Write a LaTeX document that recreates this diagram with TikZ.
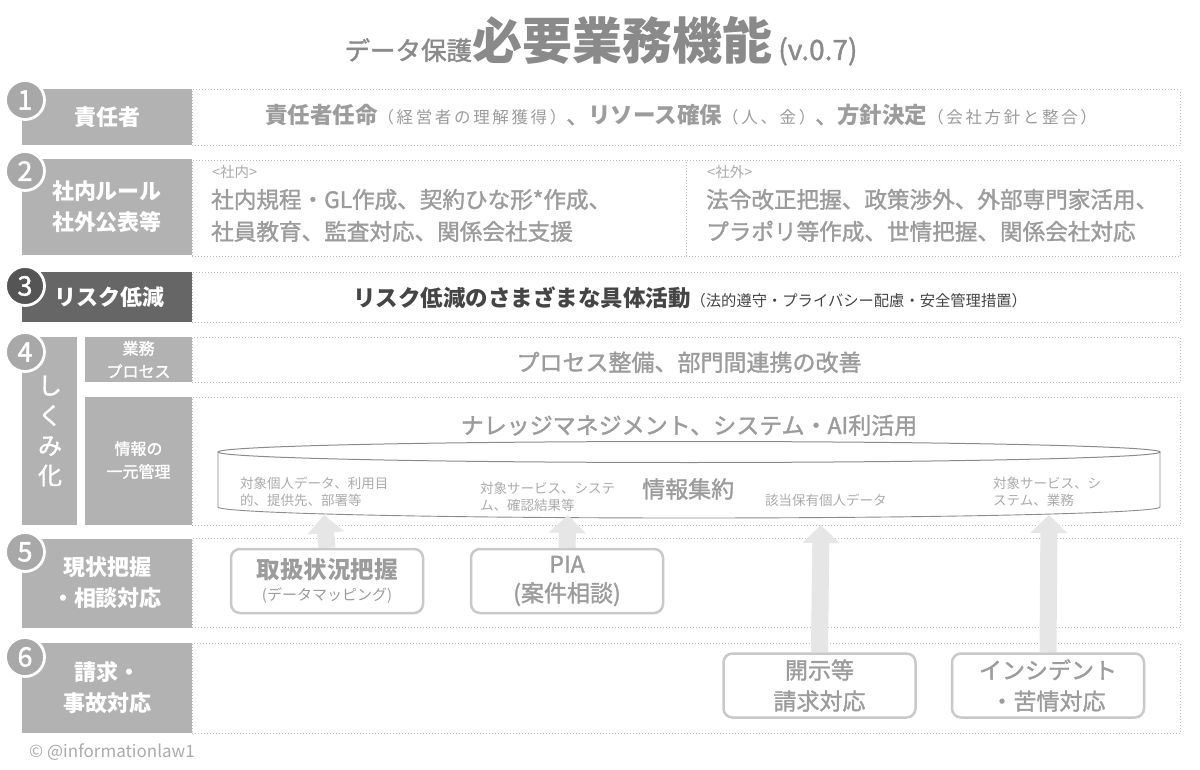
\documentclass[tikz,border=0pt]{standalone}
\usepackage{fontspec}
\setmainfont{Noto Sans CJK JP}
\newfontfamily\medf{Noto Sans CJK JP}[FakeBold=1.5]
\newfontfamily\spacedf{Noto Sans CJK JP}[LetterSpace=16]
\usetikzlibrary{arrows.meta}
\pgfdeclarelayer{lowlayer}
\pgfdeclarelayer{arrowlayer}
\pgfsetlayers{lowlayer,arrowlayer,main}
\definecolor{labg}{HTML}{B2B2B2}
\definecolor{numg}{HTML}{A8A8A8}
\definecolor{darkl}{HTML}{666666}
\definecolor{darkn}{HTML}{555555}
\definecolor{txtg}{HTML}{9C9C9C}
\definecolor{dotg}{HTML}{BDBDBD}
\definecolor{boxg}{HTML}{C9C9C9}
\definecolor{arrg}{HTML}{E6E6E6}
\definecolor{cylg}{HTML}{8C8C8C}
\definecolor{titg}{HTML}{8A8A8A}
\definecolor{t3}{HTML}{454545}
\newcommand\fsz[1]{\fontsize{#1}{#1}\selectfont}
\tikzset{
  lab/.style={fill=labg, draw=none, text=white, font=\bfseries\fontsize{22}{31}\selectfont, align=center, inner sep=0pt},
  sublab/.style={fill=labg, draw=none, text=white, font=\medf\fontsize{16}{23}\selectfont, align=center, inner sep=0pt},
  cont/.style={draw=dotg, line width=0.8pt, dash pattern=on 0.8pt off 2.2pt, inner sep=0pt, anchor=north west},
  numc/.style={circle, fill=numg, draw=white, line width=2.8pt, minimum size=39pt, inner sep=0pt, text=white, font=\medf\fontsize{27}{27}\selectfont},
  ctext/.style={text=txtg, inner sep=0pt},
  cyltext/.style={text=txtg!85, inner sep=0pt, anchor=west, align=left, font=\fontsize{13.5}{16.5}\selectfont},
  rbox/.style={draw=boxg, line width=2.5pt, rounded corners=9pt, fill=white, minimum width=192pt, minimum height=64pt, align=center, text=txtg, inner sep=0pt},
  fat/.style={draw=arrg, line width=17pt, -{Triangle[width=36pt,length=18pt]}}
}
\begin{document}
\begin{tikzpicture}[x=1pt,y=-1pt]
\useasboundingbox (0,0) rectangle (1200,770);
\begin{pgfonlayer}{lowlayer}
\fill[white] (0,0) rectangle (1200,770);
% content boxes
\node[cont, minimum width=988pt, minimum height=56pt] (c1) at (192,89) {};
\node[cont, minimum width=494pt, minimum height=96pt] (c2a) at (192,160) {};
\node[cont, minimum width=494pt, minimum height=96pt] (c2b) at (686,160) {};
\node[cont, minimum width=988pt, minimum height=50pt] (c3) at (192,272) {};
\node[cont, minimum width=988pt, minimum height=45pt] (c4a) at (192,337) {};
\node[cont, minimum width=988pt, minimum height=128pt] (c4b) at (192,397) {};
\node[cont, minimum width=988pt, minimum height=89pt] (c5) at (192,538) {};
\node[cont, minimum width=988pt, minimum height=90pt] (c6) at (192,643) {};
% cylinder
\draw[cylg, line width=0.9pt, fill=white] (218,452) -- (218,507)
  arc[start angle=180, end angle=0, x radius=471, y radius=11] -- (1160,452);
\draw[cylg, line width=1pt, fill=white] (689,452) ellipse [x radius=471, y radius=10.5];
\end{pgfonlayer}

% title
\node[anchor=base, text=titg, inner sep=0pt] (title) at (601,60)
  {{\medf\fsz{25.5}データ保護}{\bfseries\fsz{50}必要業務機能}{\medf\fsz{28}\ (v.0.7)}};

% label boxes
\node[lab, minimum width=170pt, minimum height=56pt] (l1) at (107,117) {責任者};
\node[lab, minimum width=170pt, minimum height=96pt] (l2) at (107,207) {社内ルール\\社外公表等};
\node[lab, fill=darkl, minimum width=170pt, minimum height=50pt] (l3) at (107,297) {\hspace*{4pt}リスク低減};
\node[lab, minimum width=55pt, minimum height=188pt] (l4) at (49.5,431) {};
\node[text=white, font=\medf\fontsize{24}{30}\selectfont, align=center, inner sep=0pt] (l4t) at (50,431) {し\\く\\み\\化};
\node[sublab, minimum width=107pt, minimum height=45pt] (l4a) at (138.5,359.5) {業務\\プロセス};
\node[sublab, minimum width=107pt, minimum height=128pt] (l4b) at (138.5,461) {};
\node[text=white, font=\medf\fontsize{16}{23}\selectfont, align=center, inner sep=0pt] (l4bt) at (138.5,460) {情報の\\一元管理};
\node[lab, minimum width=170pt, minimum height=89pt] (l5) at (107,583) {現状把握\\・相談対応};
\node[lab, minimum width=170pt, minimum height=90pt] (l6) at (107,688) {請求・\\事故対応};

% number circles
\node[numc] (n1) at (25,100) {1};
\node[numc] (n2) at (25,171) {2};
\node[numc, fill=darkn] (n3) at (25,286) {3};
\node[numc] (n4) at (25,352) {4};
\node[numc] (n5) at (25,552) {5};
\node[numc] (n6) at (25,657) {6};

% row 1 text
\node[ctext, anchor=base] (r1) at (681,124)
  {{\bfseries\fsz{22.5}責任者任命}{\spacedf\fsz{16.5}（経営者の理解獲得）}{\medf\fsz{22}、}{\bfseries\fsz{22.5}リソース確保}{\spacedf\fsz{16.5}（人、金）}{\medf\fsz{22}、}{\bfseries\fsz{22.5}方針決定}{\spacedf\fsz{16.5}（会社方針と整合）}};

% row 2 texts
\node[ctext, anchor=base west, font=\fsz{14.5}, text=txtg!85] (r2ah) at (212,178) {<社内>};
\node[ctext, anchor=base west, font=\medf\fsz{22.6}] (r2a) at (211,208) {社内規程・GL作成、契約ひな形*作成、};
\node[ctext, anchor=base west, font=\medf\fsz{22.6}] (r2a2) at (211,240) {社員教育、監査対応、関係会社支援};
\node[ctext, anchor=base west, font=\fsz{14.5}, text=txtg!85] (r2bh) at (707,178) {<社外>};
\node[ctext, anchor=base west, font=\medf\fsz{22.6}] (r2b) at (706,208) {法令改正把握、政策渉外、外部専門家活用、};
\node[ctext, anchor=base west, font=\medf\fsz{22.6}] (r2b2) at (706,240) {プラポリ等作成、世情把握、関係会社対応};

% row 3 text
\node[inner sep=0pt, anchor=base, text=t3] (r3) at (690,306)
  {{\bfseries\fsz{22.5}リスク低減のさまざまな具体活動}{\fsz{15.3}（法的遵守・プライバシー配慮・安全管理措置）}};

% row 4 texts
\node[ctext, anchor=base, font=\medf\fsz{23}] (r4a) at (689,371) {プロセス整備、部門間連携の改善};
\node[ctext, anchor=base, font=\medf\fsz{23}] (r4b) at (689,434) {ナレッジマネジメント、システム・AI利活用};

% cylinder texts
\node[cyltext] (z1) at (240,492) {対象個人データ、利用目\\的、提供先、部署等};
\node[cyltext] (z2) at (480,497) {対象サービス、システ\\ム、確認結果等};
\node[ctext, anchor=west, font=\medf\fsz{23}] (z3) at (642,489) {情報集約};
\node[cyltext] (z4) at (765,500) {該当保有個人データ};
\node[cyltext] (z5) at (993,492) {対象サービス、シ\\ステム、業務};

% target points on the cylinder
\coordinate (t1) at (324,515);
\coordinate (t2) at (568,515);
\coordinate (t3) at (821,525);
\coordinate (t4) at (1049,515);

% boxes of rows 5 and 6
\node[rbox, font=\fontsize{15}{19}\selectfont] (m1) at (327,581)
  {{\bfseries\fontsize{23.5}{23.5}\selectfont 取扱状況把握}\\[3pt](データマッピング)};
\node[rbox, font=\medf\fontsize{23}{29}\selectfont] (m2) at (567,581) {PIA\\(案件相談)};
\node[rbox, font=\medf\fontsize{23}{31}\selectfont] (m3) at (819.5,685.5) {開示等\\請求対応};
\node[rbox, font=\medf\fontsize{23}{31}\selectfont] (m4) at (1048,685.5) {インシデント\\・苦情対応};

% fat arrows
\begin{pgfonlayer}{arrowlayer}
\draw[fat] (m1.north) -- (t1);
\draw[fat] (m2.north) -- (t2);
\draw[fat] (m3.north) -- (t3);
\draw[fat] (m4.north) -- (t4);
\end{pgfonlayer}

% copyright
\node[anchor=base west, inner sep=0pt, text=txtg!85, font=\fsz{17}] (copy) at (29,757) {© @informationlaw1};
\end{tikzpicture}
\end{document}
